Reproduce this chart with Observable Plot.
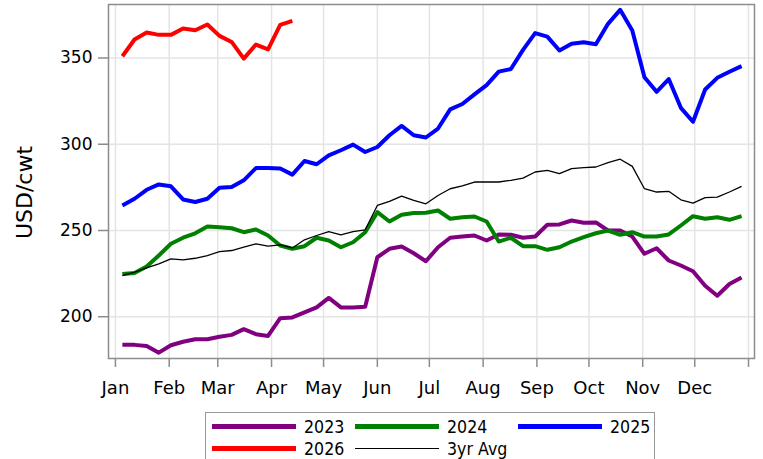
<!DOCTYPE html>
<html>
<head>
<meta charset="utf-8">
<script src="https://cdn.jsdelivr.net/npm/d3@7"></script>
<script src="https://cdn.jsdelivr.net/npm/@observablehq/plot@0.6"></script>
<style>
  html, body { margin: 0; padding: 0; background: #fff; }
  #wrap { position: relative; width: 763px; height: 459px; overflow: hidden; font-family: "DejaVu Sans", sans-serif; }
  #legend {
    position: absolute; left: 205px; top: 412px; width: 450px; height: 60px;
    border: 1px solid #999; box-sizing: border-box; background: #fff;
    font-family: "DejaVu Sans", sans-serif; font-weight: 400; font-size: 18px;
  }
  .li { position: absolute; display: flex; align-items: center; height: 22px; }
  .sw { width: 84px; margin-right: 8px; }
  .tx { display: inline-block; transform: scaleX(0.88); transform-origin: left center; white-space: nowrap; }
</style>
</head>
<body>
<div id="wrap"><div id="chart"></div><div id="legend"></div></div>
<script>
// ---- data (weekly) ----
const monthLabels = ["Jan","Feb","Mar","Apr","May","Jun","Jul","Aug","Sep","Oct","Nov","Dec"];
const yTicks = [200, 250, 300, 350];

const y2023 = [183.7,183.7,183.1,179.2,183.5,185.5,187,187,188.4,189.5,192.8,189.9,188.9,199.2,199.6,202.5,205.4,210.9,205.4,205.4,205.8,234.5,239.4,240.7,236.8,232.2,240.3,245.8,246.5,247.1,244.2,247.7,247.5,245.8,246.5,253.3,253.5,255.8,254.5,254.7,250,250,246.5,236.5,239.7,232.6,229.7,226.4,218,212.2,219,222.8];
const y2024 = [224.8,225.4,229.1,235.5,242.3,245.8,248.4,252.3,251.9,251.3,249,250.6,247.1,241.3,239.4,240.9,245.8,244.2,240.3,243.2,249,260.6,255.2,259.1,260.1,260.3,261.6,256.8,257.7,258.1,255.2,243.6,245.8,240.9,240.9,238.8,240.3,243.6,246.1,248.4,250,247.5,249,246.5,246.5,247.7,252.9,258.3,256.8,257.7,256.2,258.3];
const y2025 = [264.5,268.4,273.6,276.7,275.6,268,266.5,268.4,274.8,275.2,279.1,286.2,286.2,285.9,282.4,290.3,288.4,293.6,296.5,299.8,295.5,298.4,305.2,310.6,305.2,303.9,309.1,320.2,323.3,328.9,334.3,342.1,343.6,354.7,364.4,362.4,354.3,358.2,359.1,358,369.8,377.9,365.9,338.8,330.4,337.8,321.1,313,331.7,338.5,342,345.3];
const y2026 = [351,360.7,364.8,363.4,363.4,367.1,366.1,369.4,362.8,359.3,349.6,357.8,355,369.2,371.5];
const avg3 = [223.8,225.8,228.3,230.6,233.5,233,233.9,235.5,237.8,238.4,240.3,242.3,240.9,241.7,239.9,244.6,247.1,249.4,247.5,249.4,250.4,264.5,266.9,269.9,267.4,265.5,270.3,274.2,275.8,278.1,278.1,278.1,279.1,280.4,283.9,284.9,283,285.9,286.4,286.8,289.3,291.3,287.2,274.2,272.3,272.7,267.8,265.9,269,269.4,272.3,275.6];

const series = [
  {name: "2023", values: y2023, color: "#800080", width: 4},
  {name: "2024", values: y2024, color: "#008000", width: 4},
  {name: "2025", values: y2025, color: "#0000ff", width: 4},
  {name: "2026", values: y2026, color: "#ff0000", width: 4},
  {name: "3yr Avg", values: avg3, color: "#000000", width: 1.3}
];

// week i of the year -> date on a common (non-leap) year axis
const weekDate = i => new Date(Date.UTC(2023, 0, 5 + 7 * i));
const monthTicks = d3.utcMonths(new Date(Date.UTC(2023,0,1)), new Date(Date.UTC(2024,0,2)));

const lineMarks = series.map(s => Plot.line(
  s.values.map((v, i) => ({date: weekDate(i), value: v})),
  {x: "date", y: "value", stroke: s.color, strokeWidth: s.width, strokeLinejoin: "round", strokeLinecap: "butt"}
));

const chart = Plot.plot({
  width: 763,
  height: 408,
  marginLeft: 108,
  marginRight: 9,
  marginTop: 4,
  marginBottom: 50,
  style: {fontFamily: "DejaVu Sans, sans-serif", background: "#fff"},
  x: {type: "utc", domain: [new Date(Date.UTC(2022,11,28)), new Date(Date.UTC(2024,0,4,11))]},
  y: {domain: [175.8, 381]},
  marks: [
    Plot.gridX(monthTicks, {stroke: "#e4e4e4", strokeOpacity: 1, strokeWidth: 1.5}),
    Plot.gridY(yTicks, {stroke: "#e4e4e4", strokeOpacity: 1, strokeWidth: 1.5}),
    ...lineMarks,
    Plot.frame({stroke: "#8c8c8c", strokeWidth: 1.5}),
    Plot.axisX(monthTicks, {
      tickFormat: d => d.getUTCFullYear() > 2023 ? "" : monthLabels[d.getUTCMonth()],
      tickSize: 9, tickPadding: 14, fontSize: 18, stroke: "#8c8c8c", strokeWidth: 1.5, fill: "#000", label: null
    }),
    Plot.axisY(yTicks, {
      tickSize: 10, tickPadding: 6, fontSize: 17, stroke: "#8c8c8c", strokeWidth: 1.5, fill: "#000",
      label: "USD/cwt", labelAnchor: "center", labelArrow: "none", labelOffset: 92
    })
  ]
});
chart.querySelectorAll("g[aria-label='y-axis label']").forEach(el => {
  el.setAttribute("font-size", "22");
  el.setAttribute("transform", ((el.getAttribute("transform") || "") + " translate(0,11)").trim());
});
document.getElementById("chart").appendChild(chart);

// ---- legend (HTML, below the SVG) ----
const legend = document.getElementById("legend");
const cols = [6, 149, 312];
series.forEach((s, i) => {
  const row = Math.floor(i / 3), col = i % 3;
  const item = document.createElement("div");
  item.className = "li";
  item.style.left = cols[col] + "px";
  item.style.top = (2 + row * 22.6) + "px";
  const sw = document.createElement("div");
  sw.className = "sw";
  sw.style.height = s.width < 2 ? "1.3px" : "5px";
  sw.style.background = s.color;
  const tx = document.createElement("span");
  tx.className = "tx";
  tx.textContent = s.name;
  item.appendChild(sw); item.appendChild(tx);
  legend.appendChild(item);
});
</script>
</body>
</html>
